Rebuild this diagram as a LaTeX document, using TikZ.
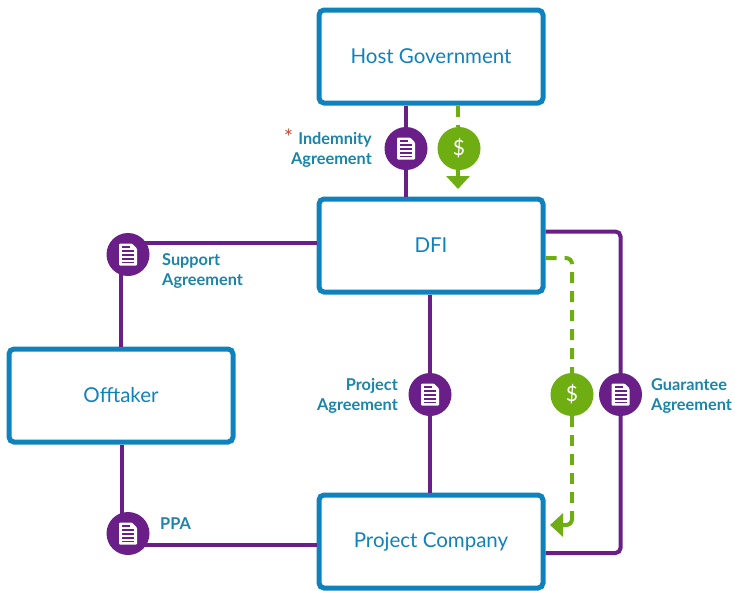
\documentclass[tikz,border=0pt]{standalone}
\usepackage{fontspec}
\setmainfont{Lato}
\usepackage{xcolor}
\usetikzlibrary{arrows.meta}
\definecolor{dfiblue}{HTML}{0F82BE}
\definecolor{dfipurple}{HTML}{6A1E87}
\definecolor{dfigreen}{HTML}{6FAE12}
\definecolor{dfiteal}{HTML}{1B84A8}
\definecolor{dfistar}{HTML}{C0503A}
\tikzset{
  partybox/.style={draw=dfiblue, line width=5pt, rounded corners=5pt, minimum width=224pt, minimum height=93pt, inner sep=0pt, font=\fontsize{20.5}{24}\selectfont, text=dfiblue},
  docnode/.style={circle, fill=dfipurple, minimum size=43pt, inner sep=0pt},
  cashnode/.style={circle, fill=dfigreen, minimum size=43pt, inner sep=0pt, text=white, font=\fontsize{21}{24}\selectfont},
  agreelabel/.style={text=dfiteal, font=\fontsize{16.3}{20}\selectfont\bfseries, inner sep=0pt},
  legalline/.style={draw=dfipurple, line width=4pt},
  cashline/.style={draw=dfigreen, line width=4pt, dash pattern=on 11pt off 8pt},
  cashtipline/.style={draw=dfigreen, line width=4pt, -{Triangle[length=13pt, width=23pt]}},
  docicon/.pic={
    \fill[white, rounded corners=1pt] (-9,-11) -- (4,-11) -- (9,-6) -- (9,11) -- (-9,11) -- cycle;
    \foreach \y in {-3.5,0.5,4.5,8} \draw[dfipurple, line width=1.6pt] (-6,\y) -- (6,\y);
    \draw[dfipurple, line width=1.6pt] (-6,-7.5) -- (2,-7.5);
  }
}
\begin{document}
\begin{tikzpicture}[x=1pt, y=-1pt]
\useasboundingbox (0,0) rectangle (735,590);
% parties
\node[partybox] (host) at (431,56.5) {Host Government};
\node[partybox] (dfi) at (431,245.5) {DFI};
\node[partybox] (offtaker) at (121,395.5) {Offtaker};
\node[partybox] (company) at (431,541.5) {Project Company};
% agreements
\node[docnode] (indemnity) at (406,148.5) {};
\node[cashnode] (hostcash) at (459,148.5) {\$};
\node[docnode] (support) at (128,254.5) {};
\node[docnode] (project) at (430,394.5) {};
\node[cashnode] (dficash) at (572,394.5) {\$};
\node[docnode] (guarantee) at (620.5,394.5) {};
\node[docnode] (ppa) at (128,533.5) {};
\foreach \n in {indemnity, support, project, guarantee, ppa}
  \pic at (\n) {docicon};
% ends on the box sides
\coordinate (dfisupport) at (dfi.west |- 0,243);
\coordinate (supportend) at (140,243);
\coordinate (dfiguarantee) at (dfi.east |- 0,231.5);
\coordinate (companyguarantee) at (company.east |- 0,553);
\coordinate (dficashout) at (dfi.east |- 0,258);
\coordinate (cashdrop) at (572,505);
\coordinate (cashcorner) at (572,511);
\coordinate (cashtip) at (550,525);
\coordinate (ppaend) at (140,545);
\coordinate (companyppa) at (company.west |- 0,545);
% legal lines
\draw[legalline] (host.south -| indemnity) -- (indemnity);
\draw[legalline] (indemnity) -- (dfi.north -| indemnity);
\draw[legalline] (supportend) -- (dfisupport);
\draw[legalline] (121,270) -- (offtaker.north -| 121,0);
\draw[legalline] (offtaker.south -| 122,0) -- (122,520);
\draw[legalline] (ppaend) -- (companyppa);
\draw[legalline] (dfi.south -| project) -- (project);
\draw[legalline] (project) -- (company.north -| project);
\draw[legalline, rounded corners=5pt] (dfiguarantee) -| (guarantee.north);
\draw[legalline, rounded corners=5pt] (guarantee.south) |- (companyguarantee);
% cash flows
\draw[cashline] (host.south -| 458,0) -- (hostcash.north -| 458,0);
\draw[cashtipline] (458,168) -- (458,189);
\draw[cashline, rounded corners=6pt] (dficashout) -| (dficash.north);
\draw[cashline] (dficash.south) -- (cashdrop);
\draw[cashtipline, rounded corners=6pt] (cashcorner) |- (cashtip);
% labels
\node[agreelabel, align=right, anchor=east] (indemnitylabel) at (372,150) {Indemnity\\Agreement};
\node[text=dfistar, font=\fontsize{22}{24}\selectfont, inner sep=0pt] (indemnitystar) at (288.5,137) {*};
\node[agreelabel, align=left, anchor=west] (supportlabel) at (162,271) {Support\\Agreement};
\node[agreelabel, align=right, anchor=east] (projectlabel) at (398,395.5) {Project\\Agreement};
\node[agreelabel, align=left, anchor=west] (guaranteelabel) at (651,396) {Guarantee\\Agreement};
\node[agreelabel, anchor=west] (ppalabel) at (160,524) {PPA};
\end{tikzpicture}
\end{document}
